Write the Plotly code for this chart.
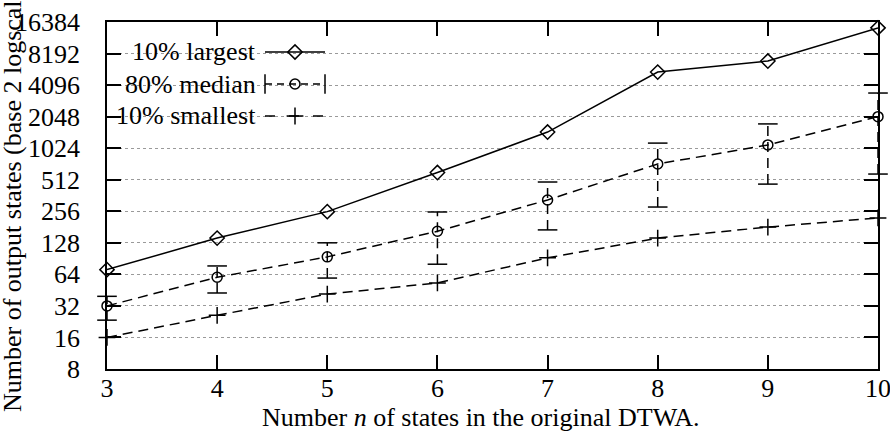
import plotly.graph_objects as go

# ---- data ----
n_states = [3, 4, 5, 6, 7, 8, 9, 10]
largest10 = [71, 142, 254, 600, 1460, 5450, 6950, 14400]
median = [32, 60, 94, 165, 328, 724, 1100, 2048]
median_hi = [39.5, 77, 128, 252, 487, 1145, 1745, 3440]
median_lo = [23.4, 42.5, 59, 80, 170, 281, 465, 580]
smallest10 = [16, 26, 41.5, 53, 92, 142, 181, 221]

y_ticks = [8, 16, 32, 64, 128, 256, 512, 1024, 2048, 4096, 8192, 16384]
x_ticks = [3, 4, 5, 6, 7, 8, 9, 10]
legend_labels = ["10% largest", "80% median", "10% smallest"]
x_title = "Number <i>n</i> of states in the original DTWA."
y_title = "Number of output states (base 2 logscale)"

FONT = "Liberation Serif, Times New Roman, serif"
FS = 26
LW = 1.5
DASH = "10px,6px"
COL = "black"

# plot area in pixels
W, H = 890, 432
L, R, T, B = 107, 12, 22, 63
PW, PH = W - L - R, H - T - B


def px(x):
    return (x - L) / PW


def py(y):
    return (H - B - y) / PH


fig = go.Figure()

# largest
fig.add_trace(go.Scatter(
    x=n_states, y=largest10, mode="lines+markers",
    line=dict(color=COL, width=LW),
    marker=dict(symbol="diamond-open", size=11, color=COL, line=dict(width=LW)),
    cliponaxis=False, showlegend=False))

# median error bars (dashed verticals + caps)
ex, ey = [], []
for x, lo, hi in zip(n_states, median_lo, median_hi):
    ex += [x, x, None]
    ey += [lo, hi, None]
fig.add_trace(go.Scatter(
    x=ex, y=ey, mode="lines", line=dict(color=COL, width=LW, dash=DASH),
    cliponaxis=False, showlegend=False, connectgaps=False))
fig.add_trace(go.Scatter(
    x=n_states + n_states, y=median_lo + median_hi, mode="markers",
    marker=dict(symbol="line-ew", size=14, color=COL, line=dict(width=LW, color=COL)),
    cliponaxis=False, showlegend=False))

# median line
fig.add_trace(go.Scatter(
    x=n_states, y=median, mode="lines+markers",
    line=dict(color=COL, width=LW, dash=DASH),
    marker=dict(symbol="circle-open", size=10, color=COL, line=dict(width=LW)),
    cliponaxis=False, showlegend=False))

# smallest
fig.add_trace(go.Scatter(
    x=n_states, y=smallest10, mode="lines+markers",
    line=dict(color=COL, width=LW, dash=DASH),
    marker=dict(symbol="cross-thin-open", size=12, color=COL, line=dict(width=LW, color=COL)),
    cliponaxis=False, showlegend=False))

# ---- custom gnuplot-style legend on overlay axes (domain coords) ----
leg_rows = [52, 84, 116]
lx0, lx1, lxm = px(265), px(325), px(295)
# largest sample
fig.add_trace(go.Scatter(x=[lx0, lx1], y=[py(leg_rows[0])] * 2, xaxis="x2", yaxis="y2",
                         mode="lines", line=dict(color=COL, width=LW), showlegend=False, hoverinfo="skip"))
fig.add_trace(go.Scatter(x=[lxm], y=[py(leg_rows[0])], xaxis="x2", yaxis="y2", mode="markers",
                         marker=dict(symbol="diamond-open", size=11, color=COL, line=dict(width=LW)),
                         showlegend=False, hoverinfo="skip"))
# median sample
fig.add_trace(go.Scatter(x=[lx0, lx1], y=[py(leg_rows[1])] * 2, xaxis="x2", yaxis="y2",
                         mode="lines", line=dict(color=COL, width=LW, dash="7px,5px"), showlegend=False, hoverinfo="skip"))
fig.add_trace(go.Scatter(x=[lx0, lx1], y=[py(leg_rows[1])] * 2, xaxis="x2", yaxis="y2", mode="markers",
                         marker=dict(symbol="line-ns", size=14, color=COL, line=dict(width=LW, color=COL)),
                         showlegend=False, hoverinfo="skip"))
fig.add_trace(go.Scatter(x=[lxm], y=[py(leg_rows[1])], xaxis="x2", yaxis="y2", mode="markers",
                         marker=dict(symbol="circle-open", size=10, color=COL, line=dict(width=LW)),
                         showlegend=False, hoverinfo="skip"))
# smallest sample
fig.add_trace(go.Scatter(x=[lx0, lx1], y=[py(leg_rows[2])] * 2, xaxis="x2", yaxis="y2",
                         mode="lines", line=dict(color=COL, width=LW, dash="10px,14px"), showlegend=False, hoverinfo="skip"))
fig.add_trace(go.Scatter(x=[lxm], y=[py(leg_rows[2])], xaxis="x2", yaxis="y2", mode="markers",
                         marker=dict(symbol="cross-thin-open", size=12, color=COL, line=dict(width=LW, color=COL)),
                         showlegend=False, hoverinfo="skip"))

annotations = []
for lab, row in zip(legend_labels, leg_rows):
    annotations.append(dict(text=lab, x=px(258), y=py(row), xref="paper", yref="paper",
                            xanchor="right", yanchor="middle", showarrow=False,
                            font=dict(family=FONT, size=FS, color="black")))
# axis titles
annotations.append(dict(text=x_title, x=px(481), y=py(417), xref="paper", yref="paper",
                        xanchor="center", yanchor="middle", showarrow=False,
                        font=dict(family=FONT, size=FS, color="black")))
annotations.append(dict(text=y_title, x=px(12), y=py(196), xref="paper", yref="paper",
                        xanchor="center", yanchor="middle", showarrow=False, textangle=-90,
                        font=dict(family=FONT, size=FS, color="black")))

shapes = [dict(type="rect", xref="paper", yref="paper", x0=0, x1=px(333), y0=py(128), y1=py(36),
               fillcolor="white", line=dict(width=0), layer="between")]

fig.update_layout(
    width=W, height=H,
    margin=dict(l=L, r=R, t=T, b=B, pad=0, autoexpand=False),
    paper_bgcolor="white", plot_bgcolor="white",
    font=dict(family=FONT, size=FS, color="black"),
    annotations=annotations, shapes=shapes,
    xaxis=dict(range=[3, 10], tickmode="array", tickvals=x_ticks, ticktext=[str(v) for v in x_ticks],
               ticks="inside", ticklen=14, tickwidth=LW, tickcolor="black", automargin=False,
               showline=True, linecolor="black", linewidth=LW, mirror="ticks",
               showgrid=False, zeroline=False, ticklabelstandoff=-5, ticklabeloverflow="allow"),
    yaxis=dict(type="log", range=[0.90309, 4.21442], tickmode="array", tickvals=y_ticks,
               ticktext=[str(v) for v in y_ticks], automargin=False,
               ticks="inside", ticklen=14, tickwidth=LW, tickcolor="black",
               showline=True, linecolor="black", linewidth=LW, mirror="ticks",
               showgrid=True, gridcolor="#9a9a9a", griddash="dot", gridwidth=1,
               zeroline=False, ticklabelstandoff=20, ticklabeloverflow="allow"),
    xaxis2=dict(overlaying="x", range=[0, 1], visible=False, fixedrange=True),
    yaxis2=dict(overlaying="y", range=[0, 1], visible=False, fixedrange=True),
)

fig.write_html("out.html")
